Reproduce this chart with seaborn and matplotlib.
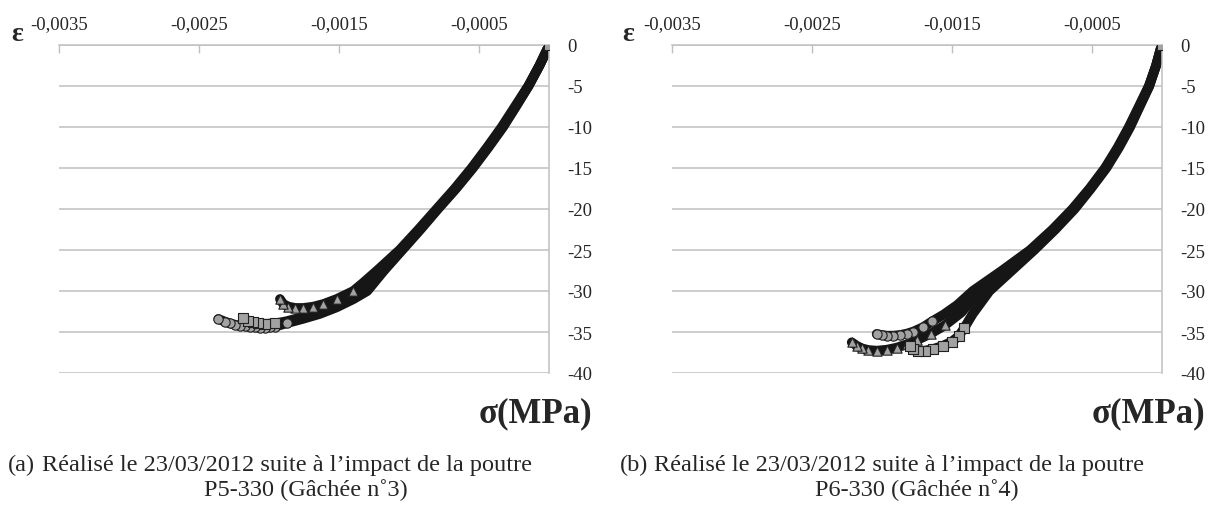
# -----------------------> Libraries -------------------------------
import numpy as np
import pandas as pd
import matplotlib
matplotlib.use('Agg')
import matplotlib.pyplot as plt
import seaborn as sns

# -----------------------> Data (strain, stress MPa) ----------

x_ticks = [-0.0035, -0.0025, -0.0015, -0.0005]
x_labels = ['-0,0035', '-0,0025', '-0,0015', '-0,0005']
y_ticks = [0, -5, -10, -15, -20, -25, -30, -35, -40]
y_labels = ['0', '-5', '-10', '-15', '-20', '-25', '-30', '-35', '-40']

# chart (a) P5-330
a_tri_eps = [0, -0.00007, -0.00015, -0.000245, -0.00034, -0.000445, -0.000555, -0.000675,
             -0.000805, -0.000935, -0.00107, -0.00123, -0.00133, -0.0014,
             -0.001519, -0.001614, -0.001686, -0.001757, -0.001816, -0.001864, -0.0019, -0.001924]
a_tri_sig = [0, -2.5, -5, -7.5, -10, -12.5, -15, -17.5,
             -20, -22.5, -25, -27.5, -29.0, -30.0,
             -30.98, -31.59, -31.91, -32.07, -32.07, -31.9, -31.59, -30.98]

a_cir_eps = [0, -0.00007, -0.000148, -0.000238, -0.00033, -0.000435, -0.000545, -0.000665,
             -0.000795, -0.00092, -0.00105, -0.00118, -0.0013, -0.0014, -0.00152, -0.00164,
             -0.00176, -0.00187, -0.001959, -0.001995, -0.002031, -0.002066, -0.002102,
             -0.002138, -0.002174, -0.002209, -0.002245, -0.002281, -0.002316, -0.002364]
a_cir_sig = [0, -2.5, -5, -7.5, -10, -12.5, -15, -17.5,
             -20, -22.5, -25, -27.5, -30, -31, -32, -32.8,
             -33.4, -33.9, -34.35, -34.43, -34.48, -34.48, -34.43,
             -34.39, -34.30, -34.23, -34.11, -33.94, -33.74, -33.41]

a_sq_eps = [0, -0.00007, -0.000149, -0.00024, -0.000333, -0.00044, -0.00055, -0.00067,
            -0.0008, -0.000925, -0.001055, -0.001185, -0.00131, -0.00141, -0.00153, -0.00165,
            -0.00177, -0.00188, -0.00196, -0.00203, -0.002079, -0.002114, -0.00215, -0.002186]
a_sq_sig = [0, -2.5, -5, -7.5, -10, -12.5, -15, -17.5,
            -20, -22.5, -25, -27.5, -30, -30.9, -31.8, -32.6,
            -33.2, -33.7, -33.95, -34.0, -33.94, -33.82, -33.62, -33.33]

# chart (b) P6-330
b_tri_eps = [0, -0.00004, -0.00009, -0.00016, -0.00023, -0.00031, -0.0004, -0.00051,
             -0.00063, -0.00077, -0.00093, -0.00111, -0.0013, -0.00143, -0.00155,
             -0.00165, -0.00175, -0.001821, -0.001893, -0.001964, -0.002036, -0.002095,
             -0.002143, -0.002179, -0.002214]
b_tri_sig = [0, -2.5, -5, -7.5, -10, -12.5, -15, -17.5,
             -20, -22.5, -25, -27.5, -30, -32.6, -34.2,
             -35.2, -36.0, -36.5, -36.91, -37.16, -37.28, -37.2,
             -36.99, -36.67, -36.26]

b_cir_eps = [0, -0.00004, -0.000092, -0.000163, -0.000235, -0.000315, -0.000405, -0.000515,
             -0.000638, -0.00078, -0.00094, -0.00114, -0.00135, -0.00146, -0.00156,
             -0.00164, -0.001703, -0.001774, -0.001821, -0.001869, -0.001917, -0.001964,
             -0.002, -0.002036]
b_cir_sig = [0, -2.5, -5, -7.5, -10, -12.5, -15, -17.5,
             -20, -22.5, -25, -27.5, -30, -31.7, -32.9,
             -33.7, -34.4, -34.95, -35.2, -35.37, -35.45, -35.45,
             -35.37, -35.24]

b_sq_eps = [0, -0.00004, -0.000088, -0.000157, -0.000225, -0.000305, -0.000395, -0.000505,
            -0.000622, -0.00076, -0.00091, -0.00107, -0.00123, -0.00135, -0.00141,
            -0.00145, -0.00150, -0.001561, -0.001633, -0.001693, -0.001739, -0.001774, -0.001798]
b_sq_sig = [0, -2.5, -5, -7.5, -10, -12.5, -15, -17.5,
            -20, -22.5, -25, -27.5, -30, -32.8, -34.5,
            -35.5, -36.18, -36.67, -37.07, -37.28, -37.28, -37.07, -36.75]

captions = [('(a)', "Réalisé le 23/03/2012 suite à l’impact de la poutre", 'P5-330 (Gâchée n˚3)'),
            ('(b)', "Réalisé le 23/03/2012 suite à l’impact de la poutre", 'P6-330 (Gâchée n˚4)')]

# -----------------------> Style ----------------------------------------------------

sns.set_style('white')
plt.rcParams['font.family'] = ['Liberation Serif', 'DejaVu Serif']

fig = plt.figure(figsize=(12.15, 5.06), dpi=100)
W, H = 1215, 506

ax_a = fig.add_axes([59.3 / W, 1 - 374 / H, 490 / W, 328 / H])
ax_b = fig.add_axes([671.7 / W, 1 - 374 / H, 490 / W, 328 / H])

charts = [
    (ax_a, [(a_tri_eps, a_tri_sig, '^', 9), (a_cir_eps, a_cir_sig, 'o', 13), (a_sq_eps, a_sq_sig, 's', 6)]),
    (ax_b, [(b_tri_eps, b_tri_sig, '^', 11), (b_cir_eps, b_cir_sig, 'o', 9), (b_sq_eps, b_sq_sig, 's', 9)]),
]

grid_col = '#c0c0c0'
band_col = '#161616'
face_col = '#a2a2a2'

for ax, series in charts:
    ax.set_xlim(-0.0035, 0)
    ax.set_ylim(-40, 0)
    for y in y_ticks:
        ax.axhline(y, color=grid_col, lw=1.1, zorder=0)

    # dense marker band first, then the grey tail markers on top
    for eps, sig, mk, n_tail in series:
        df = pd.DataFrame({'eps': eps, 'sig': sig})
        sns.lineplot(data=df, x='eps', y='sig', sort=False, estimator=None, ax=ax,
                     color=band_col, lw=7, zorder=2, solid_capstyle='round',
                     solid_joinstyle='round')
    for eps, sig, mk, n_tail in series:
        df = pd.DataFrame({'eps': eps, 'sig': sig})
        tail = df.iloc[len(df) - n_tail:]
        sns.scatterplot(data=tail, x='eps', y='sig', marker=mk, s=45, ax=ax,
                        color=face_col, edgecolor='#202020', linewidth=0.8, zorder=3)
    eps, sig, mk, n_tail = series[-1]
    sns.scatterplot(x=eps[:1], y=sig[:1], marker=mk, s=45, ax=ax,
                    color=face_col, edgecolor='#202020', linewidth=0.8, zorder=4)

    ax.xaxis.tick_top()
    ax.yaxis.tick_right()
    ax.set_xticks(x_ticks)
    ax.set_xticklabels(x_labels)
    ax.set_yticks(y_ticks)
    ax.set_yticklabels(y_labels)
    ax.tick_params(axis='x', direction='in', length=6, width=1, color=grid_col,
                   labelsize=13.5, pad=9, top=True, bottom=False)
    ax.tick_params(axis='y', length=0, labelsize=13.5, pad=13)
    ax.set_xlabel('')
    ax.set_ylabel('')
    for side in ['left', 'bottom']:
        ax.spines[side].set_visible(False)
    for side in ['top', 'right']:
        ax.spines[side].set_color(grid_col)
        ax.spines[side].set_linewidth(1.1)
    ax.set_facecolor('white')
    ax.grid(False)

# axis titles
for x0 in [11, 622]:
    fig.text(x0 / W, 1 - 41 / H, 'ε', fontsize=20, fontweight='bold', ha='left', va='baseline')
for x1 in [592, 1205]:
    fig.text(x1 / W, 1 - 422 / H, 'σ(MPa)', fontsize=25, fontweight='bold', ha='right', va='baseline')

# captions
for (tag, line1, line2), x0, xc in zip(captions, [8, 620], [306, 917]):
    fig.text(x0 / W, 1 - 471 / H, tag, fontsize=17.5, ha='left', va='baseline')
    fig.text((x0 + 34) / W, 1 - 471 / H, line1, fontsize=17.5, ha='left', va='baseline')
    fig.text(xc / W, 1 - 496 / H, line2, fontsize=17.5, ha='center', va='baseline')

fig.savefig('out.png', dpi=100, facecolor='white')
